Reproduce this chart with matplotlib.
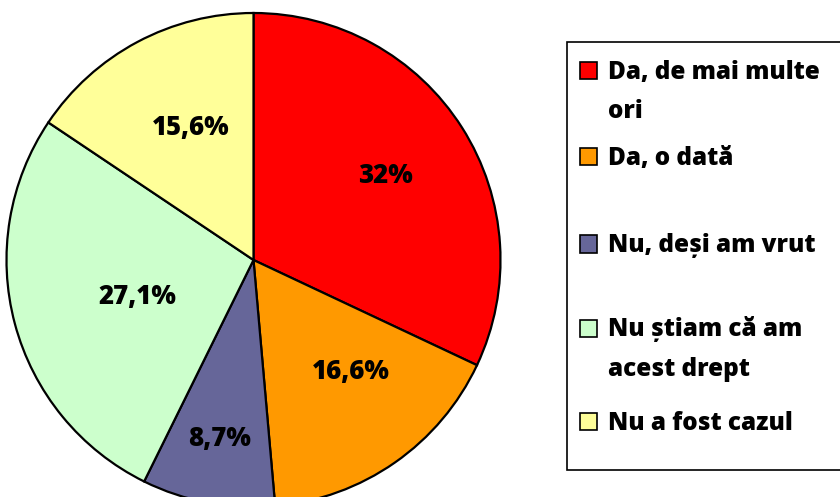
import numpy as np
import matplotlib
matplotlib.use("Agg")
import matplotlib.pyplot as plt
from matplotlib.patches import Rectangle

categories = ["Da, de mai multe\nori", "Da, o dată", "Nu, deși am vrut", "Nu știam că am\nacest drept", "Nu a fost cazul"]
values = [32.0, 16.6, 8.7, 27.1, 15.6]
value_labels = ["32%", "16,6%", "8,7%", "27,1%", "15,6%"]
colors = ["#FF0000", "#FF9900", "#666699", "#CCFFCC", "#FFFF99"]

plt.rcParams['font.family'] = ['Open Sans', 'DejaVu Sans']

W, H = 840, 497
fig = plt.figure(figsize=(W / 100, H / 100), dpi=100)

cx, cy, r = 253.5, 260, 247
ax = fig.add_axes([(cx - r) / W, (H - cy - r) / H, 2 * r / W, 2 * r / H])
wedges, _ = ax.pie(values, colors=colors, startangle=90, counterclock=False,
                   wedgeprops=dict(edgecolor="black", linewidth=1.6))
# label placement (Excel best-fit style): radius fraction and angle tweak per slice
label_r = [0.634, 0.60, 0.737, 0.494, 0.593]
label_dang = [0.0, 6.0, 0.0, 2.5, -2.5]
for w, lab, rf, da in zip(wedges, value_labels, label_r, label_dang):
    ang = np.deg2rad((w.theta1 + w.theta2) / 2 + da)
    ax.text(rf * np.cos(ang), rf * np.sin(ang), lab, fontsize=18.5, fontweight="heavy",
            ha="center", va="center")
ax.set_xlim(-1, 1)
ax.set_ylim(-1, 1)
ax.set_aspect("equal")
ax.axis("off")

# legend box
box = Rectangle((567 / W, (H - 470) / H), (W + 10 - 567) / W, (470 - 42) / H,
                transform=fig.transFigure, facecolor="white", edgecolor="black",
                linewidth=1.2, clip_on=False)
fig.add_artist(box)

row_y = [70, 156, 244, 328, 421]
line_step = 40
for lab, col, y in zip(categories, colors, row_y):
    sq = Rectangle((580 / W, (H - y - 8.5) / H), 17 / W, 17 / H, transform=fig.transFigure,
                   facecolor=col, edgecolor="black", linewidth=1.2)
    fig.add_artist(sq)
    for i, line in enumerate(lab.split("\n")):
        fig.text(608 / W, (H - y - 8.5 - i * line_step) / H, line, fontsize=17.5, fontweight="heavy",
                 ha="left", va="baseline", transform=fig.transFigure)

fig.savefig("out.png", dpi=100)
